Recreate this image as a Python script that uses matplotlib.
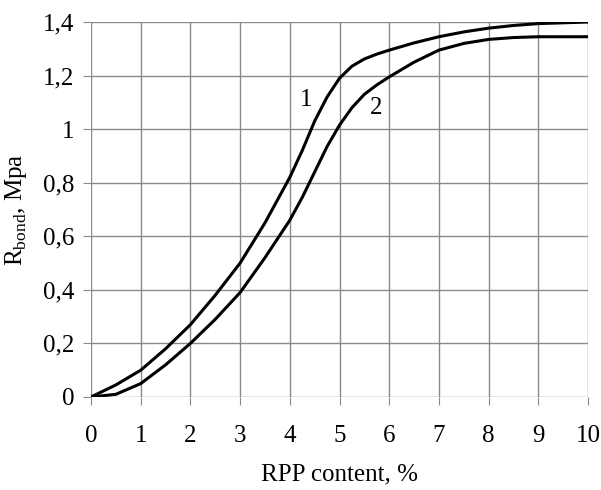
import matplotlib
matplotlib.use("Agg")
from matplotlib import pyplot as plt

# values
x = [0, 0.5, 1, 1.5, 2, 2.5, 3, 3.5, 4, 4.25, 4.5, 4.75, 5, 5.25, 5.5, 5.75, 6, 6.5, 7, 7.5, 8,
     8.5, 9, 10]
curve1 = [0, 0.045, 0.10, 0.18, 0.27, 0.38, 0.50, 0.65, 0.82, 0.92, 1.03, 1.12, 1.19, 1.235,
          1.262, 1.28, 1.295, 1.322, 1.345, 1.363, 1.377, 1.387, 1.394, 1.40]
curve2 = [0, 0.01, 0.05, 0.12, 0.20, 0.29, 0.39, 0.52, 0.66, 0.745, 0.84, 0.935, 1.015, 1.08,
          1.13, 1.165, 1.195, 1.25, 1.295, 1.32, 1.335, 1.342, 1.345, 1.345]

xticks = list(range(0, 11))
yticks = [0, 0.2, 0.4, 0.6, 0.8, 1.0, 1.2, 1.4]
ytick_labels = ['0', '0,2', '0,4', '0,6', '0,8', '1', '1,2', '1,4']

plt.rcParams['font.family'] = ['Liberation Serif', 'DejaVu Serif']
plt.rcParams['mathtext.fontset'] = 'custom'
plt.rcParams['mathtext.rm'] = 'Liberation Serif'

fig = plt.figure(figsize=(6.01, 4.90), dpi=100)
ax = fig.add_axes([0.1514, 0.1898, 0.827, 0.7653])

ax.plot(x, curve1, color='black', lw=2.2)
ax.plot(x, curve2, color='black', lw=2.2)
ax.text(4.33, 1.11, '1', fontsize=18, ha='center', va='center')
ax.text(5.73, 1.08, '2', fontsize=18, ha='center', va='center')

ax.set_xlim(0, 10)
ax.set_ylim(0, 1.4)
ax.set_xticks(xticks)
ax.set_yticks(yticks)
ax.set_yticklabels(ytick_labels)
ax.grid(True, color='#8a8a8a', lw=1.0)
ax.set_axisbelow(True)
for s in ax.spines.values():
    s.set_visible(False)
ax.tick_params(direction='out', length=6, color='#8a8a8a', labelsize=18)
ax.tick_params(axis='x', pad=14)
ax.tick_params(axis='y', pad=6)

ax.set_xlabel('RPP content, %', fontsize=18, labelpad=12)
ax.set_ylabel(r'R$_{\mathrm{bond}}$, Mpa', fontsize=18, labelpad=10)

fig.savefig('out.png', dpi=100)
